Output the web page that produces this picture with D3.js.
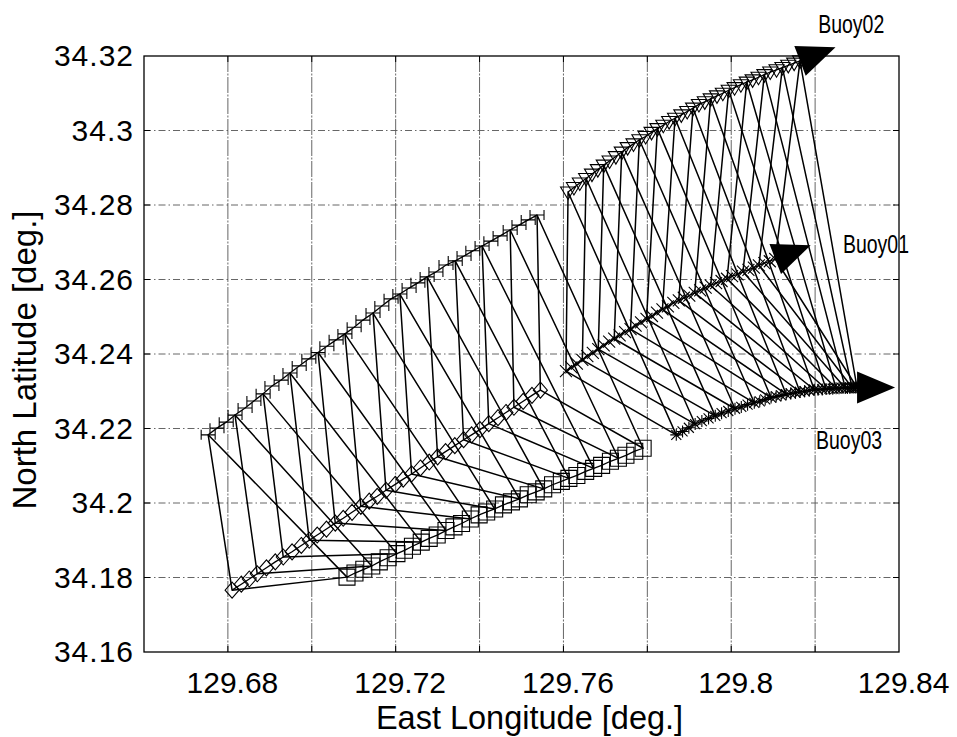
<!DOCTYPE html>
<html>
<head>
<meta charset="utf-8">
<script src="https://cdn.jsdelivr.net/npm/d3@7/dist/d3.min.js"></script>
<style>
  body { margin: 0; background: #fff; }
  svg { display: block; }
</style>
</head>
<body>
<svg id="chart" width="957" height="737"></svg>
<script>
// ---- Axis ticks ----
const xTickValues = [129.68, 129.72, 129.76, 129.80, 129.84];
const xTickLabels = ["129.68", "129.72", "129.76", "129.8", "129.84"];
const yTickValues = [34.16, 34.18, 34.20, 34.22, 34.24, 34.26, 34.28, 34.30, 34.32];
const yTickLabels = ["34.16", "34.18", "34.2", "34.22", "34.24", "34.26", "34.28", "34.3", "34.32"];
const xGridValues = [129.68, 129.70, 129.72, 129.74, 129.76, 129.78, 129.80, 129.82];
const yGridValues = [34.18, 34.20, 34.22, 34.24, 34.26, 34.28, 34.30];

// ---- First leg (earlier period) ----
// Buoy02
const b2aLon = [129.6753,129.6774,129.6796,129.6817,129.6841,129.6862,129.6884,129.6905,129.6927,129.6948,
  129.6970,129.6993,129.7015,129.7036,129.7058,129.7079,129.7101,129.7122,129.7146,129.7167,
  129.7189,129.7210,129.7232,129.7253,129.7275,129.7296,129.7320,129.7342,129.7363,129.7384,
  129.7406,129.7427,129.7449,129.7473,129.7494,129.7516,129.7537];
const b2aLat = [34.2183,34.2201,34.2217,34.2236,34.2255,34.2274,34.2293,34.2314,34.2330,34.2349,
  34.2368,34.2387,34.2404,34.2421,34.2438,34.2454,34.2472,34.2491,34.2510,34.2529,
  34.2548,34.2561,34.2577,34.2591,34.2607,34.2620,34.2639,34.2650,34.2663,34.2677,
  34.2690,34.2703,34.2717,34.2733,34.2746,34.2760,34.2773];
// Buoy01
const b1aLon = [129.6810,129.6832,129.6851,129.6870,129.6892,129.6913,129.6932,129.6953,129.6975,129.6994,
  129.7013,129.7035,129.7056,129.7075,129.7096,129.7117,129.7137,129.7156,129.7177,129.7199,
  129.7218,129.7238,129.7259,129.7280,129.7300,129.7319,129.7341,129.7362,129.7381,129.7401,
  129.7422,129.7444,129.7463,129.7482,129.7504,129.7525,129.7545];
const b1aLat = [34.1766,34.1782,34.1796,34.1810,34.1826,34.1842,34.1855,34.1869,34.1886,34.1900,
  34.1914,34.1930,34.1946,34.1959,34.1975,34.1991,34.2005,34.2018,34.2034,34.2050,
  34.2064,34.2078,34.2094,34.2110,34.2124,34.2138,34.2154,34.2170,34.2183,34.2197,
  34.2213,34.2229,34.2243,34.2257,34.2273,34.2289,34.2303];
// Buoy03
const b3aLon = [129.7084,129.7103,129.7124,129.7143,129.7161,129.7182,129.7203,129.7221,129.7240,129.7261,
  129.7280,129.7299,129.7320,129.7339,129.7357,129.7378,129.7399,129.7417,129.7436,129.7457,
  129.7476,129.7495,129.7516,129.7535,129.7553,129.7574,129.7595,129.7613,129.7632,129.7653,
  129.7672,129.7691,129.7712,129.7731,129.7749,129.7770,129.7790];
const b3aLat = [34.1801,34.1812,34.1822,34.1831,34.1842,34.1853,34.1864,34.1873,34.1884,34.1895,
  34.1905,34.1914,34.1926,34.1936,34.1945,34.1957,34.1968,34.1976,34.1984,34.1995,
  34.2003,34.2011,34.2022,34.2030,34.2038,34.2049,34.2058,34.2066,34.2074,34.2085,
  34.2093,34.2101,34.2112,34.2120,34.2128,34.2139,34.2147];

// ---- Second leg (later period) ----
// Buoy02
const b2bLon = [129.7611,129.7625,129.7639,129.7654,129.7668,129.7682,129.7696,129.7710,129.7725,129.7739,
  129.7753,129.7767,129.7781,129.7796,129.7810,129.7824,129.7838,129.7852,129.7866,129.7881,
  129.7895,129.7909,129.7923,129.7937,129.7951,129.7966,129.7980,129.7994,129.8008,129.8023,
  129.8037,129.8051,129.8065,129.8079,129.8093,129.8108,129.8122,129.8136,129.8150,129.8164];
const b2bLat = [34.2835,34.2847,34.2859,34.2871,34.2883,34.2895,34.2907,34.2918,34.2930,34.2942,
  34.2954,34.2964,34.2975,34.2984,34.2995,34.3005,34.3014,34.3024,34.3033,34.3042,
  34.3051,34.3060,34.3070,34.3077,34.3085,34.3093,34.3100,34.3108,34.3115,34.3123,
  34.3130,34.3136,34.3143,34.3150,34.3157,34.3163,34.3169,34.3175,34.3181,34.3187];
// Buoy01
const b1bLon = [129.7606,129.7619,129.7632,129.7645,129.7657,129.7670,129.7683,129.7696,129.7709,129.7721,
  129.7734,129.7747,129.7760,129.7772,129.7785,129.7798,129.7811,129.7823,129.7836,129.7849,
  129.7862,129.7875,129.7887,129.7900,129.7913,129.7926,129.7939,129.7951,129.7964,129.7977,
  129.7990,129.8002,129.8015,129.8028,129.8041,129.8054,129.8066,129.8079,129.8092,129.8105];
const b1bLat = [34.2354,34.2364,34.2374,34.2384,34.2394,34.2403,34.2413,34.2423,34.2433,34.2441,
  34.2450,34.2459,34.2467,34.2476,34.2485,34.2494,34.2502,34.2511,34.2520,34.2528,
  34.2537,34.2544,34.2551,34.2557,34.2564,34.2571,34.2578,34.2584,34.2590,34.2596,
  34.2602,34.2609,34.2614,34.2621,34.2626,34.2632,34.2638,34.2644,34.2649,34.2655];
// Buoy03
const b3bLon = [129.7869,129.7884,129.7899,129.7914,129.7930,129.7946,129.7962,129.7977,129.7993,129.8009,
  129.8024,129.8039,129.8055,129.8068,129.8081,129.8095,129.8107,129.8119,129.8131,129.8142,
  129.8153,129.8164,129.8175,129.8186,129.8198,129.8207,129.8217,129.8226,129.8234,129.8242,
  129.8250,129.8257,129.8264,129.8272,129.8277,129.8283,129.8288,129.8292,129.8296,129.8300];
const b3bLat = [34.2183,34.2192,34.2202,34.2212,34.2220,34.2227,34.2234,34.2241,34.2247,34.2253,
  34.2258,34.2264,34.2269,34.2273,34.2278,34.2283,34.2286,34.2289,34.2292,34.2294,
  34.2296,34.2298,34.2300,34.2302,34.2304,34.2304,34.2305,34.2306,34.2307,34.2307,
  34.2308,34.2308,34.2309,34.2309,34.2309,34.2309,34.2310,34.2310,34.2310,34.2310];

// Buoy triangles are drawn every third sample
const triangleStep = 3;

// Buoy name labels (anchored in lon/lat)
const buoyNames = ["Buoy02", "Buoy01", "Buoy03"];
const buoyLabelLon = [129.8286, 129.8345, 129.8281];
const buoyLabelLat = [34.3287, 34.2695, 34.2169];

// ---- Layout ----
const svg = d3.select("#chart");
const x = d3.scaleLinear().domain([129.66, 129.84]).range([144, 899]);
const y = d3.scaleLinear().domain([34.16, 34.32]).range([652, 56]);
const [x0, x1] = x.range();
const [y0, y1] = y.range(); // y0 bottom, y1 top
const FONT = "'Liberation Sans', Arial, Helvetica, sans-serif";

const zip = (lon, lat) => lon.map((v, i) => [x(v), y(lat[i])]);

// Grid
const grid = svg.append("g");
grid.selectAll("line.vg").data(xGridValues).join("line")
  .attr("x1", d => x(d)).attr("x2", d => x(d)).attr("y1", y1).attr("y2", y0)
  .attr("stroke", "#555").attr("stroke-width", 0.9).attr("stroke-dasharray", "16,1.5,2,1.5");
grid.selectAll("line.hg").data(yGridValues).join("line")
  .attr("y1", d => y(d)).attr("y2", d => y(d)).attr("x1", x0).attr("x2", x1)
  .attr("stroke", "#555").attr("stroke-width", 0.9).attr("stroke-dasharray", "7,3,1.5,3");

// Frame and inward ticks
svg.append("rect").attr("x", x0).attr("y", y1).attr("width", x1 - x0).attr("height", y0 - y1)
  .attr("fill", "none").attr("stroke", "#000").attr("stroke-width", 1.3);
const ticks = svg.append("g").attr("stroke", "#000").attr("stroke-width", 1);
ticks.selectAll("line.tb").data(xGridValues).join("line")
  .attr("x1", d => x(d)).attr("x2", d => x(d)).attr("y1", y0).attr("y2", y0 - 6);
ticks.selectAll("line.tt").data(xGridValues).join("line")
  .attr("x1", d => x(d)).attr("x2", d => x(d)).attr("y1", y1).attr("y2", y1 + 6);
ticks.selectAll("line.tl").data(yGridValues).join("line")
  .attr("y1", d => y(d)).attr("y2", d => y(d)).attr("x1", x0).attr("x2", x0 + 6);
ticks.selectAll("line.tr").data(yGridValues).join("line")
  .attr("y1", d => y(d)).attr("y2", d => y(d)).attr("x1", x1).attr("x2", x1 - 6);

// Axis labels
const xAxis = d3.axisBottom(x).tickValues(xTickValues)
  .tickFormat((d, i) => xTickLabels[i]).tickSize(0).tickPadding(20);
const gx = svg.append("g").attr("transform", `translate(0,${y0})`).call(xAxis);
gx.select(".domain").remove();
gx.selectAll("text").attr("font-family", FONT).attr("font-size", 30).attr("fill", "#000")
  .attr("dx", 4);

const yAxis = d3.axisLeft(y).tickValues(yTickValues)
  .tickFormat((d, i) => yTickLabels[i]).tickSize(0).tickPadding(10);
const gy = svg.append("g").attr("transform", `translate(${x0},0)`).call(yAxis);
gy.select(".domain").remove();
gy.selectAll("text").attr("font-family", FONT).attr("font-size", 30)
  .attr("letter-spacing", 1).attr("fill", "#000");

svg.append("text").attr("x", (x0 + x1) / 2 + 8).attr("y", 729).attr("text-anchor", "middle")
  .attr("font-family", FONT).attr("font-size", 32.5)
  .text("East Longitude [deg.]");
svg.append("text").attr("transform", `translate(36,${(y0 + y1) / 2 + 6}) rotate(-90)`)
  .attr("text-anchor", "middle")
  .attr("font-family", FONT).attr("font-size", 33)
  .text("North Latitude [deg.]");

// ---- Tracks ----
const plot = svg.append("g");
const line = d3.line();

const markerPaths = {
  ibeam: "M-7,0H7M-7,-5V5M7,-5V5",
  diamond: "M0,-8L7,0L0,8L-7,0Z",
  square: "M-8,-8H8V8H-8Z",
  triDown: "M-7.5,-5H7.5L0,7.5Z",
  cross: "M-6,-6L6,6M-6,6L6,-6",
  star: "M-5,-5L5,5M-5,5L5,-5M-6,0H6M0,-6V6"
};

const legs = [
  { b2: zip(b2aLon, b2aLat), b1: zip(b1aLon, b1aLat), b3: zip(b3aLon, b3aLat),
    m2: "ibeam", m1: "diamond", m3: "square", arrows: false },
  { b2: zip(b2bLon, b2bLat), b1: zip(b1bLon, b1bLat), b3: zip(b3bLon, b3bLat),
    m2: "triDown", m1: "cross", m3: "star", arrows: true }
];

legs.forEach(leg => {
  // triangles joining the three buoys at the same time
  const tri = [];
  for (let i = 0; i < leg.b2.length; i += triangleStep) tri.push([leg.b2[i], leg.b1[i], leg.b3[i]]);
  plot.append("g").selectAll("path").data(tri).join("path")
    .attr("d", d => line(d) + "Z")
    .attr("fill", "none").attr("stroke", "#000").attr("stroke-width", 1.5)
    .attr("stroke-linejoin", "round");

  [[leg.b2, leg.m2], [leg.b1, leg.m1], [leg.b3, leg.m3]].forEach(([pts, m]) => {
    plot.append("path").attr("d", line(pts)).attr("fill", "none")
      .attr("stroke", "#000").attr("stroke-width", 1.3);
    plot.append("g").selectAll("path").data(pts).join("path")
      .attr("transform", d => `translate(${d[0]},${d[1]})`)
      .attr("d", markerPaths[m]).attr("fill", "none")
      .attr("stroke", "#000").attr("stroke-width", 1.1);
    if (leg.arrows) {
      const n = pts.length;
      const a = pts[n - 4], b = pts[n - 1];
      const ang = Math.atan2(b[1] - a[1], b[0] - a[0]);
      const L = 38, W = 16;
      const cos = Math.cos(ang), sin = Math.sin(ang);
      const tip = [b[0] + L * cos, b[1] + L * sin];
      const c1 = [b[0] - W * sin, b[1] + W * cos];
      const c2 = [b[0] + W * sin, b[1] - W * cos];
      plot.append("path").attr("d", line([tip, c1, c2]) + "Z").attr("fill", "#000");
    }
  });
});

// Buoy labels (narrow lettering)
svg.append("g").selectAll("text").data(buoyNames).join("text")
  .attr("transform", (d, i) => `translate(${x(buoyLabelLon[i])},${y(buoyLabelLat[i])}) scale(0.78,1)`)
  .attr("text-anchor", "middle").attr("dy", "0.36em")
  .attr("font-family", FONT).attr("font-size", 25).text(d => d);
</script>
</body>
</html>
